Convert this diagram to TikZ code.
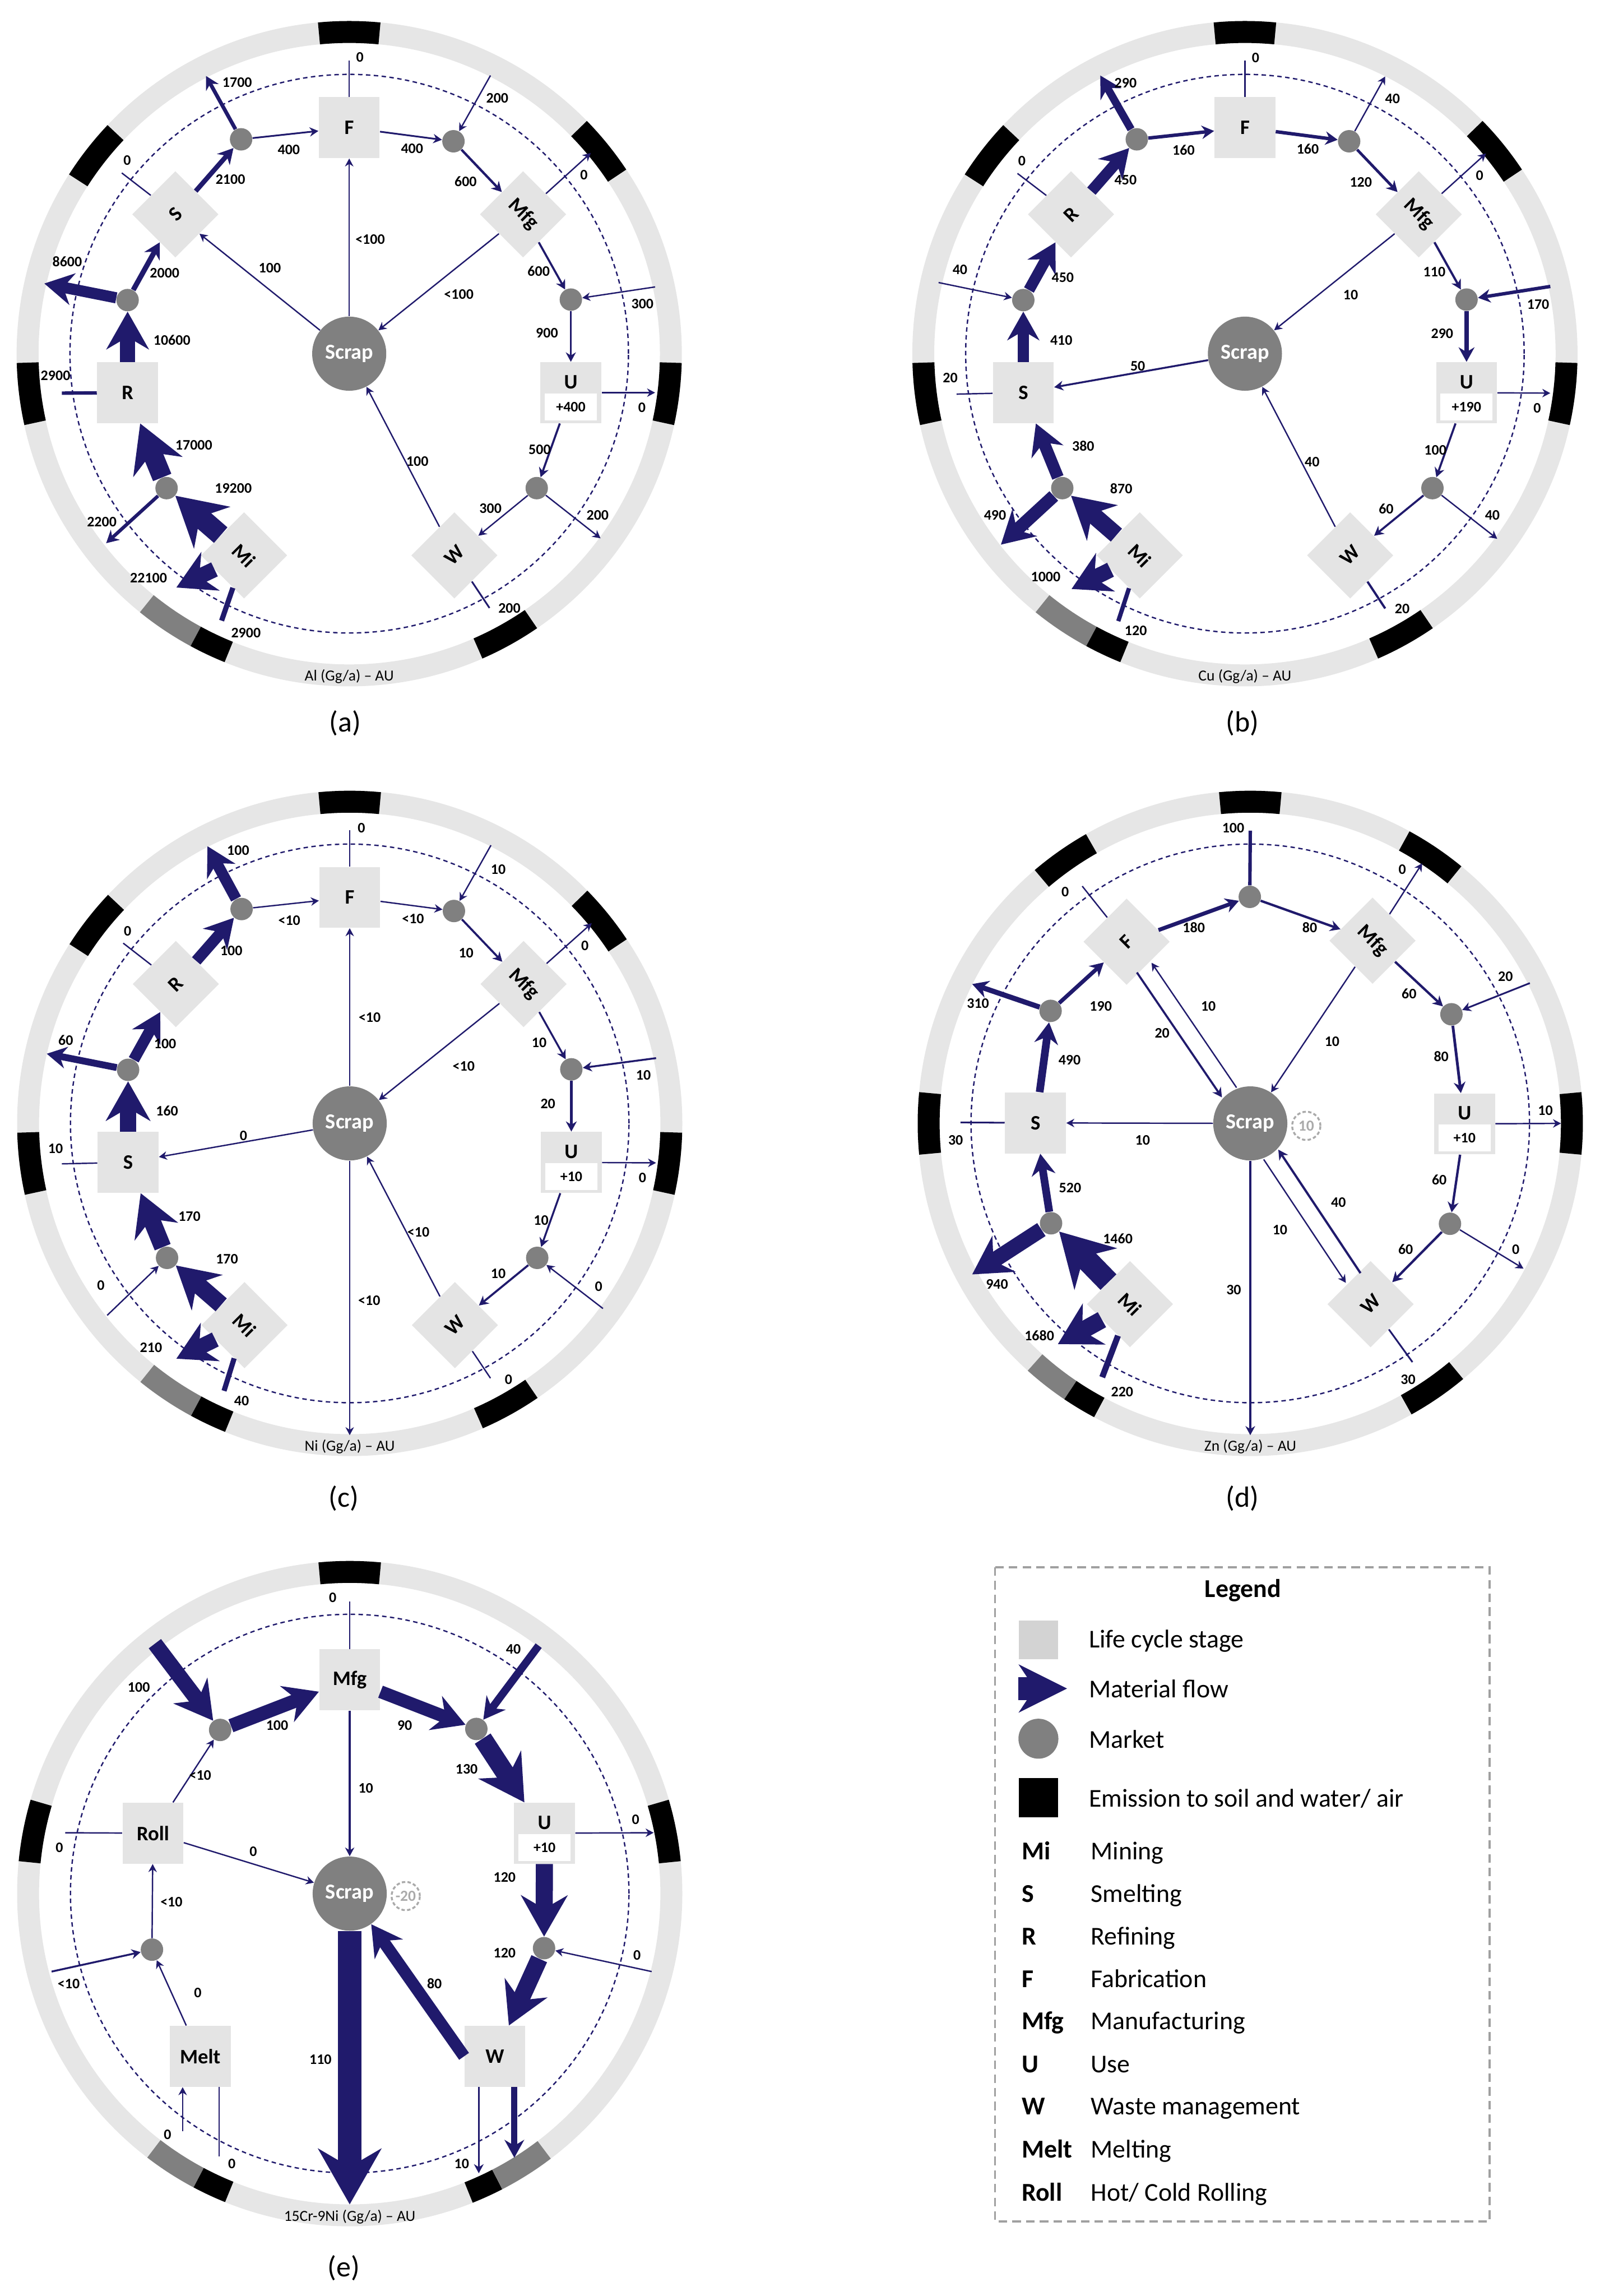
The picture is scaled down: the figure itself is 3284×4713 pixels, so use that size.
\documentclass[tikz,border=0pt]{standalone}
\usepackage{fontspec}
\setmainfont{Carlito}
\usepackage{tikz}
\usetikzlibrary{arrows.meta, positioning}
\definecolor{navy}{RGB}{32,26,108}
\definecolor{stagegray}{RGB}{228,228,228}
\definecolor{ringgray}{RGB}{230,230,230}
\definecolor{mktgray}{RGB}{128,128,128}
\definecolor{deltagray}{RGB}{170,170,170}
\definecolor{leggray}{RGB}{211,211,211}
\definecolor{framegray}{RGB}{160,160,160}
\tikzset{
	lifestage/.style={fill=stagegray, minimum size=1.25cm, inner sep=0pt, font=\fontsize{12}{14}\selectfont\bfseries},
	mkt/.style={circle, fill=mktgray, minimum size=0.46cm, inner sep=0pt},
	scrapnode/.style={circle, fill=mktgray, minimum size=1.52cm, inner sep=0pt, text=white, font=\fontsize{12.5}{14}\selectfont\bfseries},
	stocknote/.style={fill=white, minimum width=1.07cm, minimum height=0.55cm, inner sep=0pt, font=\fontsize{8.5}{10}\selectfont\bfseries},
	utxt/.style={inner sep=0pt, font=\fontsize{12}{14}\selectfont\bfseries},
	delta/.style={circle, draw=deltagray, line width=1.1pt, dash pattern=on 2pt off 1.3pt, minimum size=0.58cm, inner sep=0pt, text=deltagray, font=\fontsize{9}{10}\selectfont\bfseries},
	valnum/.style={inner sep=0pt, font=\fontsize{8.5}{10}\selectfont\bfseries},
	ringtitle/.style={inner sep=0pt, font=\fontsize{9}{10}\selectfont},
	panellabel/.style={inner sep=0pt, font=\fontsize{17}{20}\selectfont},
	flow/.style={draw=navy, line width=#1, -{Stealth[length=3pt 2.1, width=3pt 2.4]}},
	flow/.default=0.8pt,
	stub/.style={draw=navy, line width=#1},
	stub/.default=0.8pt,
	ringband/.style={draw=ringgray, line width=0.45cm},
	orbitline/.style={draw=navy, line width=0.8pt, dash pattern=on 2.6pt off 2pt},
	emblock/.style={draw=#1, line width=0.45cm},
	legframe/.style={draw=framegray, line width=1.2pt, dash pattern=on 5pt off 3pt},
	legtext/.style={anchor=west, inner sep=0pt, text height=11pt, text depth=2pt, font=\fontsize{15}{18}\selectfont},
	legabbr/.style={legtext, font=\fontsize{15}{18}\selectfont\bfseries},
}
% emission block on the ring: start angle, end angle, colour
\newcommand{\emis}[3]{\draw[emblock=#3] (#1:6.6cm) arc[start angle=#1, end angle=#2, radius=6.6cm];}

\begin{document}
\begin{tikzpicture}[x=0.01cm, y=-0.01cm]
	\useasboundingbox (0,0) rectangle (3284,4713);
	
	% ---------------- (a) Al ----------------
	\begin{scope}[shift={(717,726)}]
		\draw[ringband] (0,0) circle[radius=6.6cm];
		\emis{84.6}{95.4}{black} \emis{33.6}{44.4}{black} \emis{-12.4}{-1.6}{black} \emis{-66.4}{-55.6}{black}
		\emis{231}{241.5}{mktgray} \emis{241.5}{248}{black} \emis{181.6}{192.4}{black} \emis{136.6}{147.4}{black}
		\draw[orbitline] (0,0) circle[radius=5.73cm];
		\node[ringtitle] (a-title) at (0,663) {Al (Gg/a) \textendash\ AU};
		
		% stages
		\node[lifestage] (aF) at (0,-464) {F};
		\node[lifestage, rotate=-45] (aMfg) at (357,-286) {Mfg};
		\node[lifestage] (aU) at (455,80) {};
		\node[utxt] (aUt) at ([yshift=0.22cm]aU.center) {U};
		\node[stocknote] (aUs) at ([yshift=-0.29cm]aU.center) {+400};
		\node[lifestage, rotate=45] (aW) at (216,414) {W};
		\node[lifestage, rotate=-45] (aMi) at (-216,414) {Mi};
		\node[lifestage] (aR) at (-455,80) {R};
		\node[lifestage, rotate=45] (aS) at (-357,-286) {S};
		\node[scrapnode] (aScrap) at (0,0) {Scrap};
		% markets
		\node[mkt] (am1) at (-222,-440) {};
		\node[mkt] (am2) at (214,-436) {};
		\node[mkt] (am3) at (455,-111) {};
		\node[mkt] (am4) at (385,276) {};
		\node[mkt] (am5) at (-455,-110) {};
		\node[mkt] (am6) at (-375,276) {};
		% free ends
		\coordinate (ao1) at (-355,480);
		\coordinate (ai1) at (-262,548);
		\coordinate (ao2) at (-499,389);
		\coordinate (ao3) at (-626,-144);
		\coordinate (ao4) at (-590,81);
		\coordinate (ao5) at (-467,-371);
		\coordinate (ao6) at (-294,-570);
		\coordinate (ao7) at (0,-602);
		\coordinate (ai2) at (290,-571);
		\coordinate (ao8) at (496,-412);
		\coordinate (ai3) at (628,-137);
		\coordinate (ao9) at (628,80);
		\coordinate (ao10) at (516,379);
		\coordinate (ao11) at (288,522);
		% flows
		\draw[flow=12pt] (aMi) -- (am6);
		\draw[flow=11.5pt] (am6) -- (aR);
		\draw[flow=2pt] (am6) -- (ao2);
		\draw[flow=9pt] (aMi) -- (ao1);
		\draw[stub=3pt] (ai1) -- (aMi);
		\draw[flow=9pt] (aR) -- (am5);
		\draw[flow=6.5pt] (am5) -- (ao3);
		\draw[stub=2pt] (aR) -- (ao4);
		\draw[flow=3pt] (am5) -- (aS);
		\draw[flow=2.8pt] (aS) -- (am1);
		\draw[stub] (aS) -- (ao5);
		\draw[flow=2.2pt] (am1) -- (ao6);
		\draw[flow=1pt] (am1) -- (aF);
		\draw[stub] (aF) -- (ao7);
		\draw[flow=1pt] (aF) -- (am2);
		\draw[flow] (ai2) -- (am2);
		\draw[flow=1.4pt] (am2) -- (aMfg);
		\draw[flow] (aMfg) -- (ao8);
		\draw[flow=1.2pt] (aMfg) -- (am3);
		\draw[flow] (ai3) -- (am3);
		\draw[flow=1.2pt] (am3) -- (aU);
		\draw[flow] (aU) -- (ao9);
		\draw[flow=1.2pt] (aU) -- (am4);
		\draw[flow] (am4) -- (aW);
		\draw[flow] (am4) -- (ao10);
		\draw[stub=1pt] (aW) -- (ao11);
		\draw[flow] (aW) -- (aScrap);
		\draw[flow] (aScrap) -- (aF);
		\draw[flow] (aMfg) -- (aScrap);
		\draw[flow] (aScrap) -- (aS);
		% values
		\node[valnum] (a-1) at (-238,276) {19200};
		\node[valnum] (a-2) at (-319,188) {17000};
		\node[valnum] (a-3) at (-508,345) {2200};
		\node[valnum] (a-4) at (-412,460) {22100};
		\node[valnum] (a-5) at (-212,573) {2900};
		\node[valnum] (a-6) at (-364,-28) {10600};
		\node[valnum] (a-7) at (-579,-189) {8600};
		\node[valnum] (a-8) at (-603,45) {2900};
		\node[valnum] (a-9) at (-379,-165) {2000};
		\node[valnum] (a-10) at (-244,-358) {2100};
		\node[valnum] (a-11) at (-456,-397) {0};
		\node[valnum] (a-12) at (-230,-557) {1700};
		\node[valnum] (a-13) at (-124,-419) {400};
		\node[valnum] (a-14) at (22,-608) {0};
		\node[valnum] (a-15) at (129,-421) {400};
		\node[valnum] (a-16) at (304,-524) {200};
		\node[valnum] (a-17) at (239,-353) {600};
		\node[valnum] (a-18) at (482,-367) {0};
		\node[valnum] (a-19) at (389,-169) {600};
		\node[valnum] (a-20) at (602,-102) {300};
		\node[valnum] (a-21) at (406,-42) {900};
		\node[valnum] (a-22) at (601,111) {0};
		\node[valnum] (a-23) at (391,197) {500};
		\node[valnum] (a-24) at (290,318) {300};
		\node[valnum] (a-25) at (510,331) {200};
		\node[valnum] (a-26) at (329,523) {200};
		\node[valnum] (a-27) at (140,221) {100};
		\node[valnum] (a-28) at (43,-235) {<100};
		\node[valnum] (a-29) at (225,-122) {<100};
		\node[valnum] (a-30) at (-163,-176) {100};
	\end{scope}
	
	% ---------------- (b) Cu ----------------
	\begin{scope}[shift={(2556,726)}]
		\draw[ringband] (0,0) circle[radius=6.6cm];
		\emis{84.6}{95.4}{black} \emis{33.6}{44.4}{black} \emis{-12.4}{-1.6}{black} \emis{-66.4}{-55.6}{black}
		\emis{231}{241.5}{mktgray} \emis{241.5}{248}{black} \emis{181.6}{192.4}{black} \emis{136.6}{147.4}{black}
		\draw[orbitline] (0,0) circle[radius=5.73cm];
		\node[ringtitle] (b-title) at (0,663) {Cu (Gg/a) \textendash\ AU};
		
		% stages
		\node[lifestage] (bF) at (0,-464) {F};
		\node[lifestage, rotate=-45] (bMfg) at (357,-286) {Mfg};
		\node[lifestage] (bU) at (455,80) {};
		\node[utxt] (bUt) at ([yshift=0.22cm]bU.center) {U};
		\node[stocknote] (bUs) at ([yshift=-0.29cm]bU.center) {+190};
		\node[lifestage, rotate=45] (bW) at (216,414) {W};
		\node[lifestage, rotate=-45] (bMi) at (-216,414) {Mi};
		\node[lifestage] (bS) at (-455,80) {S};
		\node[lifestage, rotate=45] (bR) at (-357,-286) {R};
		\node[scrapnode] (bScrap) at (0,0) {Scrap};
		% markets
		\node[mkt] (bm1) at (-222,-440) {};
		\node[mkt] (bm2) at (214,-436) {};
		\node[mkt] (bm3) at (455,-111) {};
		\node[mkt] (bm4) at (385,276) {};
		\node[mkt] (bm5) at (-455,-110) {};
		\node[mkt] (bm6) at (-375,276) {};
		% free ends
		\coordinate (bo1) at (-356,483);
		\coordinate (bi1) at (-260,549);
		\coordinate (bo2) at (-501,392);
		\coordinate (bo3) at (-592,83);
		\coordinate (bi2) at (-629,-146);
		\coordinate (bo4) at (-467,-370);
		\coordinate (bo5) at (-297,-571);
		\coordinate (bo6) at (0,-602);
		\coordinate (bo7) at (288,-569);
		\coordinate (bo8) at (495,-411);
		\coordinate (bi3) at (627,-138);
		\coordinate (bo9) at (627,81);
		\coordinate (bo10) at (518,380);
		\coordinate (bo11) at (288,523);
		% flows
		\draw[flow=10pt] (bMi) -- (bm6);
		\draw[flow=7pt] (bm6) -- (bS);
		\draw[flow=7.5pt] (bm6) -- (bo2);
		\draw[flow=9pt] (bMi) -- (bo1);
		\draw[stub=2.5pt] (bi1) -- (bMi);
		\draw[stub] (bS) -- (bo3);
		\draw[flow=6.5pt] (bS) -- (bm5);
		\draw[flow] (bi2) -- (bm5);
		\draw[flow=6.5pt] (bm5) -- (bR);
		\draw[flow=6.5pt] (bR) -- (bm1);
		\draw[stub] (bR) -- (bo4);
		\draw[flow=4.5pt] (bm1) -- (bo5);
		\draw[flow=2pt] (bm1) -- (bF);
		\draw[stub] (bF) -- (bo6);
		\draw[flow=2pt] (bF) -- (bm2);
		\draw[flow] (bm2) -- (bo7);
		\draw[flow=1.6pt] (bm2) -- (bMfg);
		\draw[flow] (bMfg) -- (bo8);
		\draw[flow=1.3pt] (bMfg) -- (bm3);
		\draw[flow=2pt] (bi3) -- (bm3);
		\draw[flow=2.6pt] (bm3) -- (bU);
		\draw[flow] (bU) -- (bo9);
		\draw[flow=1.2pt] (bU) -- (bm4);
		\draw[flow=1.2pt] (bm4) -- (bW);
		\draw[flow] (bm4) -- (bo10);
		\draw[stub=1.3pt] (bW) -- (bo11);
		\draw[flow] (bW) -- (bScrap);
		\draw[flow] (bMfg) -- (bScrap);
		\draw[flow=1.1pt] (bScrap) -- (bS);
		% values
		\node[valnum] (b-1) at (-254,277) {870};
		\node[valnum] (b-2) at (-332,189) {380};
		\node[valnum] (b-3) at (-513,331) {490};
		\node[valnum] (b-4) at (-409,458) {1000};
		\node[valnum] (b-5) at (-224,569) {120};
		\node[valnum] (b-6) at (-605,50) {20};
		\node[valnum] (b-7) at (-377,-27) {410};
		\node[valnum] (b-8) at (-585,-172) {40};
		\node[valnum] (b-9) at (-374,-156) {450};
		\node[valnum] (b-10) at (-245,-357) {450};
		\node[valnum] (b-11) at (-458,-396) {0};
		\node[valnum] (b-12) at (-245,-556) {290};
		\node[valnum] (b-13) at (-126,-418) {160};
		\node[valnum] (b-14) at (22,-607) {0};
		\node[valnum] (b-15) at (129,-420) {160};
		\node[valnum] (b-16) at (303,-523) {40};
		\node[valnum] (b-17) at (238,-352) {120};
		\node[valnum] (b-18) at (482,-366) {0};
		\node[valnum] (b-19) at (389,-168) {110};
		\node[valnum] (b-20) at (602,-101) {170};
		\node[valnum] (b-21) at (405,-41) {290};
		\node[valnum] (b-22) at (600,112) {0};
		\node[valnum] (b-23) at (391,198) {100};
		\node[valnum] (b-24) at (290,318) {60};
		\node[valnum] (b-25) at (508,332) {40};
		\node[valnum] (b-26) at (323,524) {20};
		\node[valnum] (b-27) at (138,222) {40};
		\node[valnum] (b-28) at (217,-121) {10};
		\node[valnum] (b-29) at (-220,25) {50};
	\end{scope}
	
	% ---------------- (c) Ni ----------------
	\begin{scope}[shift={(718,2306)}]
		\draw[ringband] (0,0) circle[radius=6.6cm];
		\emis{84.6}{95.4}{black} \emis{33.6}{44.4}{black} \emis{-12.4}{-1.6}{black} \emis{-66.4}{-55.6}{black}
		\emis{231}{241.5}{mktgray} \emis{241.5}{248}{black} \emis{181.6}{192.4}{black} \emis{136.6}{147.4}{black}
		\draw[orbitline] (0,0) circle[radius=5.73cm];
		\node[ringtitle] (c-title) at (0,663) {Ni (Gg/a) \textendash\ AU};
		
		% stages
		\node[lifestage] (cF) at (0,-464) {F};
		\node[lifestage, rotate=-45] (cMfg) at (357,-286) {Mfg};
		\node[lifestage] (cU) at (455,80) {};
		\node[utxt] (cUt) at ([yshift=0.22cm]cU.center) {U};
		\node[stocknote] (cUs) at ([yshift=-0.29cm]cU.center) {+10};
		\node[lifestage, rotate=45] (cW) at (216,414) {W};
		\node[lifestage, rotate=-45] (cMi) at (-216,414) {Mi};
		\node[lifestage] (cS) at (-455,80) {S};
		\node[lifestage, rotate=45] (cR) at (-357,-286) {R};
		\node[scrapnode] (cScrap) at (0,0) {Scrap};
		% markets
		\node[mkt] (cm1) at (-222,-440) {};
		\node[mkt] (cm2) at (214,-436) {};
		\node[mkt] (cm3) at (455,-111) {};
		\node[mkt] (cm4) at (385,276) {};
		\node[mkt] (cm5) at (-455,-110) {};
		\node[mkt] (cm6) at (-375,276) {};
		% free ends
		\coordinate (co1) at (-356,483);
		\coordinate (ci1) at (-258,549);
		\coordinate (ci2) at (-498,394);
		\coordinate (co2) at (-591,83);
		\coordinate (co3) at (-622,-143);
		\coordinate (co4) at (-465,-370);
		\coordinate (co5) at (-292,-569);
		\coordinate (co6) at (0,-602);
		\coordinate (ci3) at (290,-571);
		\coordinate (co7) at (497,-411);
		\coordinate (ci4) at (629,-134);
		\coordinate (co8) at (629,81);
		\coordinate (ci5) at (520,380);
		\coordinate (co9) at (289,523);
		\coordinate (co10) at (0,640);
		% flows
		\draw[flow=10pt] (cMi) -- (cm6);
		\draw[flow=10pt] (cm6) -- (cS);
		\draw[flow] (ci2) -- (cm6);
		\draw[flow=9pt] (cMi) -- (co1);
		\draw[stub=3pt] (ci1) -- (cMi);
		\draw[stub] (cS) -- (co2);
		\draw[flow=9.5pt] (cS) -- (cm5);
		\draw[flow=4pt] (cm5) -- (co3);
		\draw[flow=6.5pt] (cm5) -- (cR);
		\draw[flow=6.5pt] (cR) -- (cm1);
		\draw[stub] (cR) -- (co4);
		\draw[flow=6.5pt] (cm1) -- (co5);
		\draw[flow] (cm1) -- (cF);
		\draw[stub] (cF) -- (co6);
		\draw[flow] (cF) -- (cm2);
		\draw[flow] (ci3) -- (cm2);
		\draw[flow=1.2pt] (cm2) -- (cMfg);
		\draw[flow] (cMfg) -- (co7);
		\draw[flow=1.1pt] (cMfg) -- (cm3);
		\draw[flow=1.1pt] (ci4) -- (cm3);
		\draw[flow=1.4pt] (cm3) -- (cU);
		\draw[flow] (cU) -- (co8);
		\draw[flow=1.1pt] (cU) -- (cm4);
		\draw[flow=1.2pt] (cm4) -- (cW);
		\draw[flow] (ci5) -- (cm4);
		\draw[stub] (cW) -- (co9);
		\draw[flow] (cW) -- (cScrap);
		\draw[flow] (cMfg) -- (cScrap);
		\draw[flow] (cScrap) -- (cF);
		\draw[flow] (cScrap) -- (cS);
		\draw[flow] (cScrap) -- (co10);
		% values
		\node[valnum] (c-1) at (-252,278) {170};
		\node[valnum] (c-2) at (-329,191) {170};
		\node[valnum] (c-3) at (-511,333) {0};
		\node[valnum] (c-4) at (-408,460) {210};
		\node[valnum] (c-5) at (-222,570) {40};
		\node[valnum] (c-6) at (-604,52) {10};
		\node[valnum] (c-7) at (-375,-26) {160};
		\node[valnum] (c-8) at (-583,-171) {60};
		\node[valnum] (c-9) at (-379,-164) {100};
		\node[valnum] (c-10) at (-243,-355) {100};
		\node[valnum] (c-11) at (-456,-395) {0};
		\node[valnum] (c-12) at (-229,-560) {100};
		\node[valnum] (c-13) at (-124,-417) {<10};
		\node[valnum] (c-14) at (24,-607) {0};
		\node[valnum] (c-15) at (130,-420) {<10};
		\node[valnum] (c-16) at (305,-521) {10};
		\node[valnum] (c-17) at (239,-350) {10};
		\node[valnum] (c-18) at (483,-365) {0};
		\node[valnum] (c-19) at (389,-166) {10};
		\node[valnum] (c-20) at (603,-99) {10};
		\node[valnum] (c-21) at (407,-40) {20};
		\node[valnum] (c-22) at (601,112) {0};
		\node[valnum] (c-23) at (393,199) {10};
		\node[valnum] (c-24) at (305,308) {10};
		\node[valnum] (c-25) at (511,335) {0};
		\node[valnum] (c-26) at (326,526) {0};
		\node[valnum] (c-27) at (141,223) {<10};
		\node[valnum] (c-28) at (234,-117) {<10};
		\node[valnum] (c-29) at (41,-218) {<10};
		\node[valnum] (c-30) at (-218,25) {0};
		\node[valnum] (c-31) at (40,364) {<10};
	\end{scope}
	
	% ---------------- (d) Zn ----------------
	\begin{scope}[shift={(2567,2306)}]
		\draw[ringband] (0,0) circle[radius=6.6cm];
		\emis{84.6}{95.4}{black} \emis{50.6}{61.4}{black} \emis{-5.4}{5.4}{black} \emis{-61}{-50.2}{black}
		\emis{228}{236}{mktgray} \emis{236}{242}{black} \emis{174.6}{185.4}{black} \emis{119.6}{130.4}{black}
		\draw[orbitline] (0,0) circle[radius=5.73cm];
		\node[ringtitle] (d-title) at (0,663) {Zn (Gg/a) \textendash\ AU};
		
		% stages
		\node[lifestage] (dS) at (-441,-1) {S};
		\node[lifestage, rotate=45] (dF) at (-254,-373) {F};
		\node[lifestage, rotate=-45] (dMfg) at (251,-375) {Mfg};
		\node[lifestage] (dU) at (440,1) {};
		\node[utxt] (dUt) at ([yshift=0.22cm]dU.center) {U};
		\node[stocknote] (dUs) at ([yshift=-0.29cm]dU.center) {+10};
		\node[lifestage, rotate=45] (dW) at (247,371) {W};
		\node[lifestage, rotate=-45] (dMi) at (-247,371) {Mi};
		\node[scrapnode] (dScrap) at (0,0) {Scrap};
		\node[delta] (dDelta) at (115,5) {10};
		% markets
		\node[mkt] (dm1) at (-1,-465) {};
		\node[mkt] (dm2) at (413,-224) {};
		\node[mkt] (dm3) at (410,206) {};
		\node[mkt] (dm4) at (-409,205) {};
		\node[mkt] (dm5) at (-410,-231) {};
		% free ends
		\coordinate (do1) at (-571,310);
		\coordinate (do2) at (-395,453);
		\coordinate (di1) at (-304,521);
		\coordinate (do3) at (-595,-2);
		\coordinate (do4) at (-571,-286);
		\coordinate (do5) at (-345,-487);
		\coordinate (di2) at (0,-601);
		\coordinate (do6) at (353,-534);
		\coordinate (di3) at (574,-288);
		\coordinate (do7) at (638,0);
		\coordinate (do8) at (561,298);
		\coordinate (do9) at (333,490);
		\coordinate (do10) at (0,640);
		% flows
		\draw[flow=13pt] (dMi) -- (dm4);
		\draw[flow=9pt] (dm4) -- (do1);
		\draw[flow=10pt] (dMi) -- (do2);
		\draw[stub=3.5pt] (di1) -- (dMi);
		\draw[flow=4.5pt] (dm4) -- (dS);
		\draw[stub=1pt] (dS) -- (do3);
		\draw[flow] (dScrap) -- (dS);
		\draw[flow=4.5pt] (dS) -- (dm5);
		\draw[flow=3pt] (dm5) -- (do4);
		\draw[flow=2.3pt] (dm5) -- (dF);
		\draw[stub] (dF) -- (do5);
		\draw[flow=2.3pt] (dF) -- (dm1);
		\draw[stub=2pt] (di2) -- (dm1);
		\draw[flow=1.4pt] (dm1) -- (dMfg);
		\draw[flow] (dMfg) -- (do6);
		\draw[flow=1.4pt] (dMfg) -- (dm2);
		\draw[flow=1pt] (di3) -- (dm2);
		\draw[flow=1.6pt] (dm2) -- (dU);
		\draw[flow] (dU) -- (do7);
		\draw[flow=1.4pt] (dU) -- (dm3);
		\draw[flow=1.4pt] (dm3) -- (dW);
		\draw[flow] (dm3) -- (do8);
		\draw[stub=1pt] (dW) -- (do9);
		\draw[flow=1.3pt, transform canvas={shift={(0.15cm,0.1cm)}}] (dW) -- (dScrap);
		\draw[flow, transform canvas={shift={(-0.15cm,-0.1cm)}}] (dScrap) -- (dW);
		\draw[flow] (dMfg) -- (dScrap);
		\draw[flow=1.2pt, transform canvas={shift={(-0.15cm,-0.1cm)}}] (dF) -- (dScrap);
		\draw[flow, transform canvas={shift={(0.15cm,0.1cm)}}] (dScrap) -- (dF);
		\draw[flow=1.1pt] (dScrap) -- (do10);
		% values
		\node[valnum] (d-1) at (-272,237) {1460};
		\node[valnum] (d-2) at (-520,330) {940};
		\node[valnum] (d-3) at (-433,435) {1680};
		\node[valnum] (d-4) at (-263,551) {220};
		\node[valnum] (d-5) at (-370,132) {520};
		\node[valnum] (d-6) at (-605,34) {30};
		\node[valnum] (d-7) at (-221,34) {10};
		\node[valnum] (d-8) at (-371,-130) {490};
		\node[valnum] (d-9) at (-559,-246) {310};
		\node[valnum] (d-10) at (-307,-241) {190};
		\node[valnum] (d-11) at (-380,-475) {0};
		\node[valnum] (d-12) at (-116,-402) {180};
		\node[valnum] (d-13) at (-35,-607) {100};
		\node[valnum] (d-14) at (122,-402) {80};
		\node[valnum] (d-15) at (312,-521) {0};
		\node[valnum] (d-16) at (326,-266) {60};
		\node[valnum] (d-17) at (524,-301) {20};
		\node[valnum] (d-18) at (392,-137) {80};
		\node[valnum] (d-19) at (606,-27) {10};
		\node[valnum] (d-20) at (388,116) {60};
		\node[valnum] (d-21) at (319,258) {60};
		\node[valnum] (d-22) at (545,259) {0};
		\node[valnum] (d-23) at (324,526) {30};
		\node[valnum] (d-24) at (181,162) {40};
		\node[valnum] (d-25) at (61,219) {10};
		\node[valnum] (d-26) at (168,-168) {10};
		\node[valnum] (d-27) at (-181,-185) {20};
		\node[valnum] (d-28) at (-86,-241) {10};
		\node[valnum] (d-29) at (-34,342) {30};
	\end{scope}
	
	% ---------------- (e) 15Cr-9Ni ----------------
	\begin{scope}[shift={(718,3887)}]
		\draw[ringband] (0,0) circle[radius=6.6cm];
		\emis{84.6}{95.4}{black} \emis{5.6}{16.4}{black} \emis{163.6}{174.4}{black}
		\emis{232.5}{242}{mktgray} \emis{242}{248}{black} \emis{-68.3}{-62.7}{black} \emis{-62.7}{-52.8}{mktgray}
		\draw[orbitline] (0,0) circle[radius=5.73cm];
		\node[ringtitle] (e-title) at (0,663) {15Cr-9Ni (Gg/a) \textendash\ AU};
		
		% stages
		\node[lifestage] (eMfg) at (0,-439) {Mfg};
		\node[lifestage] (eU) at (400,-124) {};
		\node[utxt] (eUt) at ([yshift=0.22cm]eU.center) {U};
		\node[stocknote] (eUs) at ([yshift=-0.29cm]eU.center) {+10};
		\node[lifestage] (eW) at (298,334) {W};
		\node[lifestage] (eMelt) at (-307,334) {Melt};
		\node[lifestage] (eRoll) at (-404,-124) {Roll};
		\node[scrapnode] (eScrap) at (0,0) {Scrap};
		\node[delta] (eDelta) at (115,5) {-20};
		% markets
		\node[mkt] (em1) at (-266,-336) {};
		\node[mkt] (em2) at (260,-338) {};
		\node[mkt] (em3) at (399,112) {};
		\node[mkt] (em4) at (-406,115) {};
		% free ends
		\coordinate (ei1) at (-400,-513);
		\coordinate (eo1) at (0,-600);
		\coordinate (ei2) at (388,-509);
		\coordinate (eo2) at (624,-125);
		\coordinate (ei3) at (620,160);
		\coordinate (eo3) at (0,638);
		\coordinate (eo4) at (265,574);
		\coordinate (eo5) at (338,542);
		\coordinate (eo6) at (-584,-125);
		\coordinate (ei4) at (-612,160);
		\coordinate (ei5) at (-343,488);
		\coordinate (eo7) at (-268,540);
		% flows
		\draw[flow=9pt] (ei1) -- (em1);
		\draw[flow=8pt] (em1) -- (eMfg);
		\draw[stub] (eMfg) -- (eo1);
		\draw[flow=7.5pt] (eMfg) -- (em2);
		\draw[flow=4.5pt] (ei2) -- (em2);
		\draw[flow=11pt] (em2) -- (eU);
		\draw[flow] (eU) -- (eo2);
		\draw[flow=10pt] (eU) -- (em3);
		\draw[flow] (ei3) -- (em3);
		\draw[flow=10pt] (em3) -- (eW);
		\draw[flow=7pt] (eW.west) -- (eScrap);
		\draw[flow=14pt] (eScrap) -- (eo3);
		\draw[flow=1.1pt] (eW.south -| eo4) -- (eo4);
		\draw[flow=3.5pt] (eW.south -| eo5) -- (eo5);
		\draw[flow=1pt] (eMfg) -- (eScrap);
		\draw[flow] (eRoll) -- (eScrap);
		\draw[stub] (eRoll) -- (eo6);
		\draw[flow] (eRoll) -- (em1);
		\draw[flow] (em4) -- (eRoll);
		\draw[flow=1.1pt] (ei4) -- (em4);
		\draw[flow] (eMelt) -- (em4);
		\draw[flow] (ei5) -- (eMelt.south -| ei5);
		\draw[stub] (eMelt.south -| eo7) -- (eo7);
		% values
		\node[valnum] (e-1) at (-433,-424) {100};
		\node[valnum] (e-2) at (-149,-345) {100};
		\node[valnum] (e-3) at (-35,-608) {0};
		\node[valnum] (e-4) at (113,-345) {90};
		\node[valnum] (e-5) at (336,-502) {40};
		\node[valnum] (e-6) at (240,-256) {130};
		\node[valnum] (e-7) at (587,-152) {0};
		\node[valnum] (e-8) at (318,-34) {120};
		\node[valnum] (e-9) at (590,126) {0};
		\node[valnum] (e-10) at (318,122) {120};
		\node[valnum] (e-11) at (174,185) {80};
		\node[valnum] (e-12) at (-60,341) {110};
		\node[valnum] (e-13) at (230,554) {10};
		\node[valnum] (e-14) at (33,-217) {10};
		\node[valnum] (e-15) at (-198,-86) {0};
		\node[valnum] (e-16) at (-596,-95) {0};
		\node[valnum] (e-17) at (-307,-243) {<10};
		\node[valnum] (e-18) at (-366,17) {<10};
		\node[valnum] (e-19) at (-577,185) {<10};
		\node[valnum] (e-20) at (-312,204) {0};
		\node[valnum] (e-21) at (-374,495) {0};
		\node[valnum] (e-22) at (-242,554) {0};
	\end{scope}
	
	% panel labels
	\node[panellabel] (cap-a) at (709,1484) {(a)};
	\node[panellabel] (cap-b) at (2551,1484) {(b)};
	\node[panellabel] (cap-c) at (706,3076) {(c)};
	\node[panellabel] (cap-d) at (2551,3076) {(d)};
	\node[panellabel] (cap-e) at (706,4655) {(e)};
	
	% ---------------- legend ----------------
	\draw[legframe] (2043,3217) rectangle (3058,4560);
	\node[inner sep=0pt, font=\fontsize{15}{18}\selectfont\bfseries] (leg) at (2552,3265) {Legend};
	\node[fill=leggray, minimum size=0.8cm, inner sep=0pt] (legStage) at (2132,3366) {};
	\node[legtext] (legStageT) at (2235,3366) {Life cycle stage};
	\coordinate (legA1) at (2091,3466);
	\coordinate (legA2) at (2191,3466);
	\draw[draw=navy, line width=13.4pt, -{Stealth[length=28pt, width=27.6pt, inset=9pt]}] (legA1) -- (legA2);
	\node[legtext] (legFlowT) at (2235,3469) {Material flow};
	\node[circle, fill=mktgray, minimum size=0.82cm, inner sep=0pt] (legMkt) at (2132,3569) {};
	\node[legtext] (legMktT) at (2235,3572) {Market};
	\node[fill=black, minimum size=0.8cm, inner sep=0pt] (legEmis) at (2132,3690) {};
	\node[legtext] (legEmisT) at (2235,3693) {Emission to soil and water/ air};
	\node[legabbr] (legMi) at (2097,3801) {Mi};
	\node[legtext] (legMiT) at (2239,3801) {Mining};
	\node[legabbr] (legS) at (2097,3889) {S};
	\node[legtext] (legST) at (2239,3889) {Smelting};
	\node[legabbr] (legR) at (2097,3976) {R};
	\node[legtext] (legRT) at (2239,3976) {Refining};
	\node[legabbr] (legF) at (2097,4064) {F};
	\node[legtext] (legFT) at (2239,4064) {Fabrication};
	\node[legabbr] (legMfg) at (2097,4150) {Mfg};
	\node[legtext] (legMfgT) at (2239,4150) {Manufacturing};
	\node[legabbr] (legU) at (2097,4239) {U};
	\node[legtext] (legUT) at (2239,4239) {Use};
	\node[legabbr] (legW) at (2097,4325) {W};
	\node[legtext] (legWT) at (2239,4325) {Waste management};
	\node[legabbr] (legMelt) at (2097,4414) {Melt};
	\node[legtext] (legMeltT) at (2239,4414) {Melting};
	\node[legabbr] (legRoll) at (2097,4502) {Roll};
	\node[legtext] (legRollT) at (2239,4502) {Hot/ Cold Rolling};
\end{tikzpicture}
\end{document}
